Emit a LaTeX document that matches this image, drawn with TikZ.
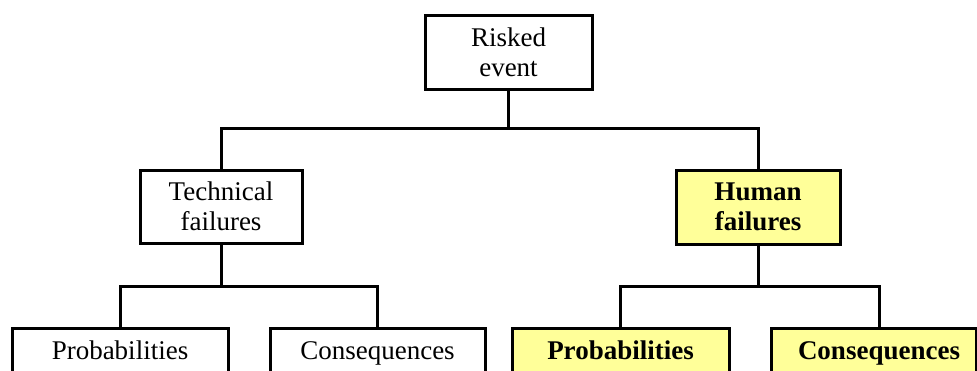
\documentclass[tikz,border=0pt]{standalone}
\usepackage{fontspec}
\setmainfont{Liberation Serif}
\definecolor{hilite}{RGB}{255,255,153}
\begin{document}
\begin{tikzpicture}[x=1pt,y=-1pt,
  box/.style={draw=black,line width=3pt,fill=white,align=center,inner sep=0pt,
    font=\fontsize{27}{30}\selectfont},
  hbox/.style={box,fill=hilite,font=\fontsize{27}{30}\selectfont\bfseries},
  leaf/.style={minimum height=48pt,text height=19pt,text depth=5pt},
  link/.style={line width=3pt,line cap=rect}]
\useasboundingbox (0,0) rectangle (977,370);
\clip (0,0) rectangle (977,370);
% upper levels
\node[box,minimum width=167pt,minimum height=74pt] (risk) at (508.5,52) {Risked\\event};
\node[box,minimum width=162pt,minimum height=73pt] (tech) at (221,206.5) {Technical\\failures};
\node[hbox,minimum width=164pt,minimum height=74pt] (human) at (758,207) {Human\\failures};
% lowest level
\node[box,leaf,minimum width=216pt] (tprob) at (120,352.5) {Probabilities};
\node[box,leaf,minimum width=215pt] (tcons) at (377.5,352.5) {Consequences};
\node[hbox,leaf,minimum width=217pt] (hprob) at (620.5,352.5) {Probabilities};
\node[hbox,leaf,minimum width=205pt] (hcons) at (873.5,352.5) {\hspace*{11pt}Consequences};
% connectors
\coordinate (j1) at (508.5,128);
\coordinate (j2) at (221,286);
\coordinate (j3) at (758,286);
\draw[link] (risk.south) -- (j1);
\draw[link] (j1) -| (tech.north);
\draw[link] (j1) -| (human.north);
\draw[link] (tech.south) -- (j2);
\draw[link] (j2) -| (tprob.north);
\draw[link] (j2) -| (tcons.north);
\draw[link] (human.south) -- (j3);
\draw[link] (j3) -| (hprob.north);
\draw[link] (j3) -| ([xshift=5.5pt]hcons.north);
\end{tikzpicture}
\end{document}
